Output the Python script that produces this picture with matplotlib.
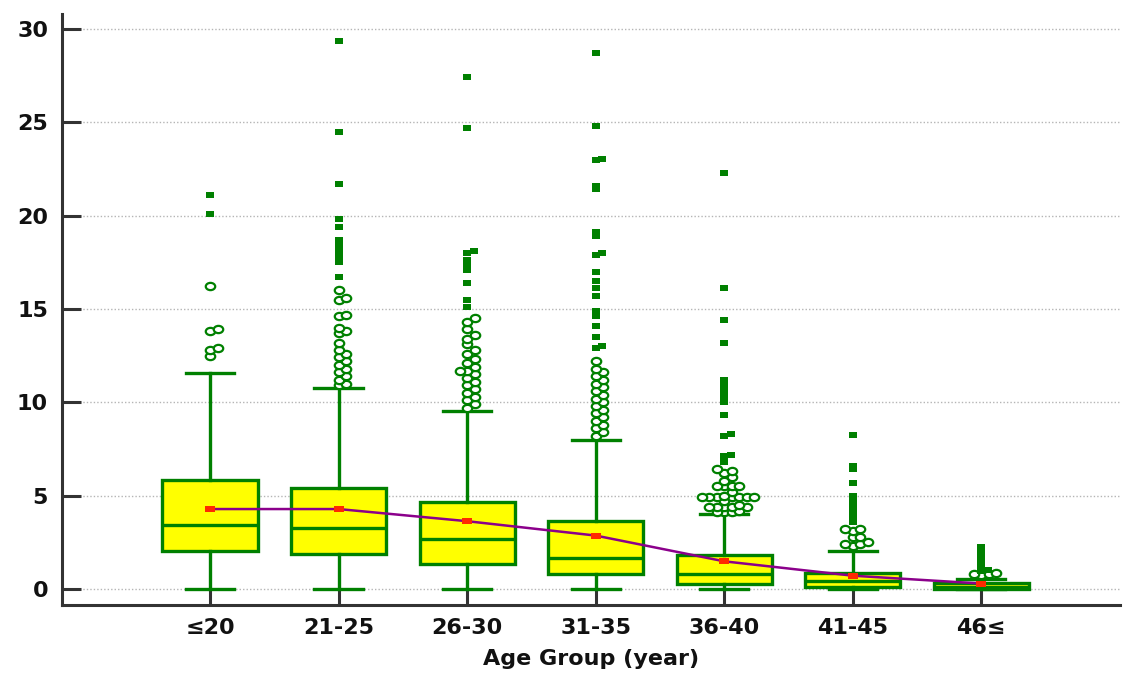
import numpy as np
import matplotlib
matplotlib.use("Agg")
import matplotlib.pyplot as plt
from matplotlib.path import Path
from matplotlib.transforms import Affine2D
from matplotlib.markers import MarkerStyle

# data
groups = ["≤20", "21-25", "26-30", "31-35", "36-40", "41-45", "46≤"]
q1 = [2.04, 1.87, 1.34, 0.79, 0.25, 0.12, 0.0]
medians = [3.43, 3.28, 2.66, 1.68, 0.79, 0.42, 0.10]
q3 = [5.84, 5.43, 4.64, 3.66, 1.82, 0.86, 0.32]
whisk_lo = [0, 0, 0, 0, 0, 0, 0]
whisk_hi = [11.57, 10.77, 9.53, 8.0, 4.02, 2.05, 0.52]
means = [4.28, 4.28, 3.63, 2.86, 1.48, 0.71, 0.29]

# outside values (open circles)
outside = [
    [16.25, 13.9, 13.8, 12.9, 12.8, 12.5],
    [16.0, 15.6, 15.5, 14.7, 14.6, 14.0, 13.8, 13.7, 13.2, 12.8, 12.6, 12.4,
     12.2, 12.0, 11.8, 11.6, 11.4, 11.2, 11.0, 10.9],
    [14.5, 14.3, 13.9, 13.6, 13.4, 13.1, 12.8, 12.6, 12.3, 12.1, 11.9, 11.7,
     11.7, 11.5, 11.3, 11.1, 10.9, 10.7, 10.5, 10.3, 10.1, 9.9, 9.7],
    [12.2, 11.8, 11.6, 11.4, 11.2, 11.0, 10.8, 10.6, 10.4, 10.2, 10.0, 9.8,
     9.6, 9.4, 9.2, 9.0, 8.8, 8.6, 8.4, 8.2],
    [6.4, 6.3, 6.2, 6.0, 5.8, 5.5, 5.5, 5.5, 5.5, 5.2, 5.0,
     4.9, 4.9, 4.9, 4.9, 4.9, 4.9, 4.9, 4.7, 4.5,
     4.4, 4.4, 4.4, 4.4, 4.4, 4.2, 4.1, 4.1, 4.1],
    [3.2, 3.2, 3.1, 2.8, 2.8, 2.5, 2.4, 2.4, 2.3],
    [0.85, 0.8, 0.8, 0.75],
]
# far out values (filled squares)
far_out = [
    [21.1, 20.1],
    [29.35, 24.5, 21.7, 19.8, 19.4, 18.7, 18.5, 18.3, 18.1, 17.9, 17.7, 17.5, 16.7],
    [27.4, 24.7, 18.1, 18.0, 17.6, 17.3, 17.1, 16.4, 15.5, 15.1],
    [28.7, 24.8, 23.05, 23.0, 21.6, 21.4, 19.1, 18.9, 18.0, 17.9, 17.0, 16.5,
     16.1, 15.7, 14.9, 14.6, 14.1, 13.5, 13.0, 12.9],
    [22.3, 16.1, 14.4, 13.2, 11.2, 10.9, 10.6, 10.3, 10.0, 9.3, 8.3, 8.2,
     7.2, 7.1, 6.8],
    [8.25, 6.6, 6.4, 5.7, 5.0, 4.8, 4.6, 4.4, 4.2, 4.0, 3.8, 3.6],
    [2.25, 2.0, 1.75, 1.6, 1.45, 1.3, 1.15, 1.0, 0.95],
]

GREEN = "#008000"
DARK = "#333333"


def swarm(vals, step, gap):
    # put overlapping points side by side, like the original software does
    placed = []
    offs = []
    for v in vals:
        k = 0
        while True:
            slot = (k + 1) // 2 * (1 if k % 2 else -1) if k else 0
            if all(abs(v - pv) >= gap for pv, ps in placed if ps == slot):
                break
            k += 1
        placed.append((v, slot))
        offs.append(slot * step)
    return np.array(offs)


ellipse = MarkerStyle(Path.unit_circle().transformed(Affine2D().scale(1.3, 1.0)))
rect = MarkerStyle(Path([(-1.4, -1), (1.4, -1), (1.4, 1), (-1.4, 1), (-1.4, -1)], closed=True))

fig = plt.figure(figsize=(11.25, 6.83), dpi=100)
ax = fig.add_axes([0.0551, 0.1142, 0.9405, 0.8653])

pos = np.arange(len(groups))
stats = []
for i in range(len(groups)):
    stats.append(dict(med=medians[i], q1=q1[i], q3=q3[i],
                      whislo=whisk_lo[i], whishi=whisk_hi[i], fliers=[]))

lw = 2.4
ax.bxp(stats, positions=pos, widths=0.74, capwidths=0.375, patch_artist=True,
       showfliers=False,
       boxprops=dict(facecolor="#ffff00", edgecolor=GREEN, linewidth=lw),
       medianprops=dict(color=GREEN, linewidth=lw),
       whiskerprops=dict(color=GREEN, linewidth=lw),
       capprops=dict(color=GREEN, linewidth=lw), zorder=2)

for i in range(len(groups)):
    o = np.array(sorted(outside[i]))
    ax.plot(pos[i] + swarm(o, 0.058, 0.28), o, linestyle="none", marker=ellipse,
            markersize=6.8, markerfacecolor="white", markeredgecolor=GREEN,
            markeredgewidth=1.6, zorder=3)
    f = np.array(sorted(far_out[i]))
    ax.plot(pos[i] + swarm(f, 0.05, 0.12), f, linestyle="none", marker=rect,
            markersize=6, color=GREEN, markeredgewidth=0, zorder=3)

ax.plot(pos, means, color="#8b008b", linewidth=1.8, zorder=4)
ax.plot(pos, means, linestyle="none", marker=rect, markersize=6.5,
        color="#ff2a00", markeredgewidth=0, zorder=5)

ax.set_xlim(-1.152, 7.08)
ax.set_ylim(-0.86, 30.8)
ax.set_yticks([0, 5, 10, 15, 20, 25, 30])
ax.set_xticks(pos)
ax.set_xticklabels(groups)

for s in ["top", "right"]:
    ax.spines[s].set_visible(False)
for s in ["left", "bottom"]:
    ax.spines[s].set_color(DARK)
    ax.spines[s].set_linewidth(2.2)

ax.yaxis.grid(True, linestyle=(0, (1, 1.5)), color="#b5b5b5", linewidth=1)
ax.set_axisbelow(True)

font = dict(family="DejaVu Sans", weight="bold", size=16)
ax.tick_params(axis="y", direction="in", length=14, width=2.2, color=DARK, pad=10)
ax.tick_params(axis="x", direction="in", length=11.5, width=2.2, color=DARK, pad=9)
for lab in ax.get_xticklabels() + ax.get_yticklabels():
    lab.set_fontfamily("DejaVu Sans")
    lab.set_fontweight("bold")
    lab.set_fontsize(16)
    lab.set_color("#111111")

ax.set_xlabel("Age Group (year)", labelpad=8, color="#111111", **font)

fig.savefig("out.png", dpi=100)
